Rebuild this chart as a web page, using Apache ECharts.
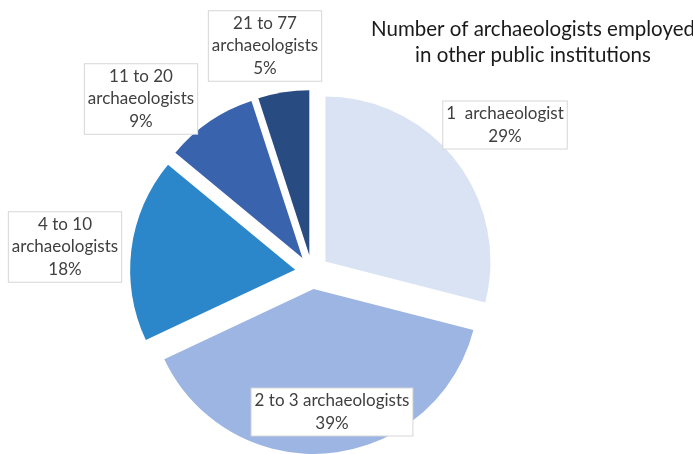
<!DOCTYPE html>
<html lang="en">
  <head>
    <meta charset="UTF-8" />
    <title>archaeologists</title>
    <script src="https://cdn.jsdelivr.net/npm/echarts@6/dist/echarts.min.js"></script>
    <style>
      body {
        margin: 0;
        padding: 0;
        background: #fff;
      }

      #main {
        width: 693px;
        height: 454px;
      }
    </style>
  </head>

  <body>
    <div id="main"></div>
    <script>
      const categories = [
        "1  archaeologist",
        "2 to 3 archaeologists",
        "4 to 10\narchaeologists",
        "11 to 20\narchaeologists",
        "21 to 77\narchaeologists",
      ];
      const shares = [29, 39, 18, 9, 5];
      const colors = ["#dae3f3", "#9db5e3", "#2c87ca", "#3a63ae", "#284b82"];
      // where each label box is centred
      const labelSpots = [
        [505, 125],
        [332, 412],
        [65, 247],
        [141, 99],
        [265, 46],
      ];

      const myChart = echarts.init(document.getElementById("main"));
      const font = "Lato";

      // boxed labels, Excel style
      const labels = categories.map((name, i) => ({
        type: "text",
        x: labelSpots[i][0],
        y: labelSpots[i][1],
        z: 10,
        style: {
          text: `${name}\n${shares[i]}%`,
          align: "center",
          verticalAlign: "middle",
          fontFamily: font,
          fontSize: 17,
          lineHeight: 22.5,
          fill: "#404040",
          backgroundColor: "#fff",
          borderColor: "#d6d6d6",
          borderWidth: 1,
          padding: [1, 3, 1, 3],
        },
      }));

      const option = {
        animation: false,
        title: {
          text: "Number of archaeologists employed\nin other public institutions",
          left: 528,
          top: 11,
          textAlign: "center",
          textStyle: {
            fontFamily: font,
            fontSize: 20.5,
            fontWeight: "normal",
            lineHeight: 26,
            color: "#1a1a1a",
          },
        },
        graphic: labels,
        series: [
          {
            type: "pie",
            center: [312, 272],
            radius: 165,
            startAngle: 90,
            clockwise: true,
            selectedMode: "multiple",
            selectedOffset: 17,
            emphasis: { disabled: true },
            label: { show: false },
            labelLine: { show: false },
            data: categories.map((name, i) => ({
              name,
              value: shares[i],
              selected: true,
              itemStyle: { color: colors[i] },
            })),
          },
        ],
      };

      myChart.setOption(option);
    </script>
  </body>
</html>
